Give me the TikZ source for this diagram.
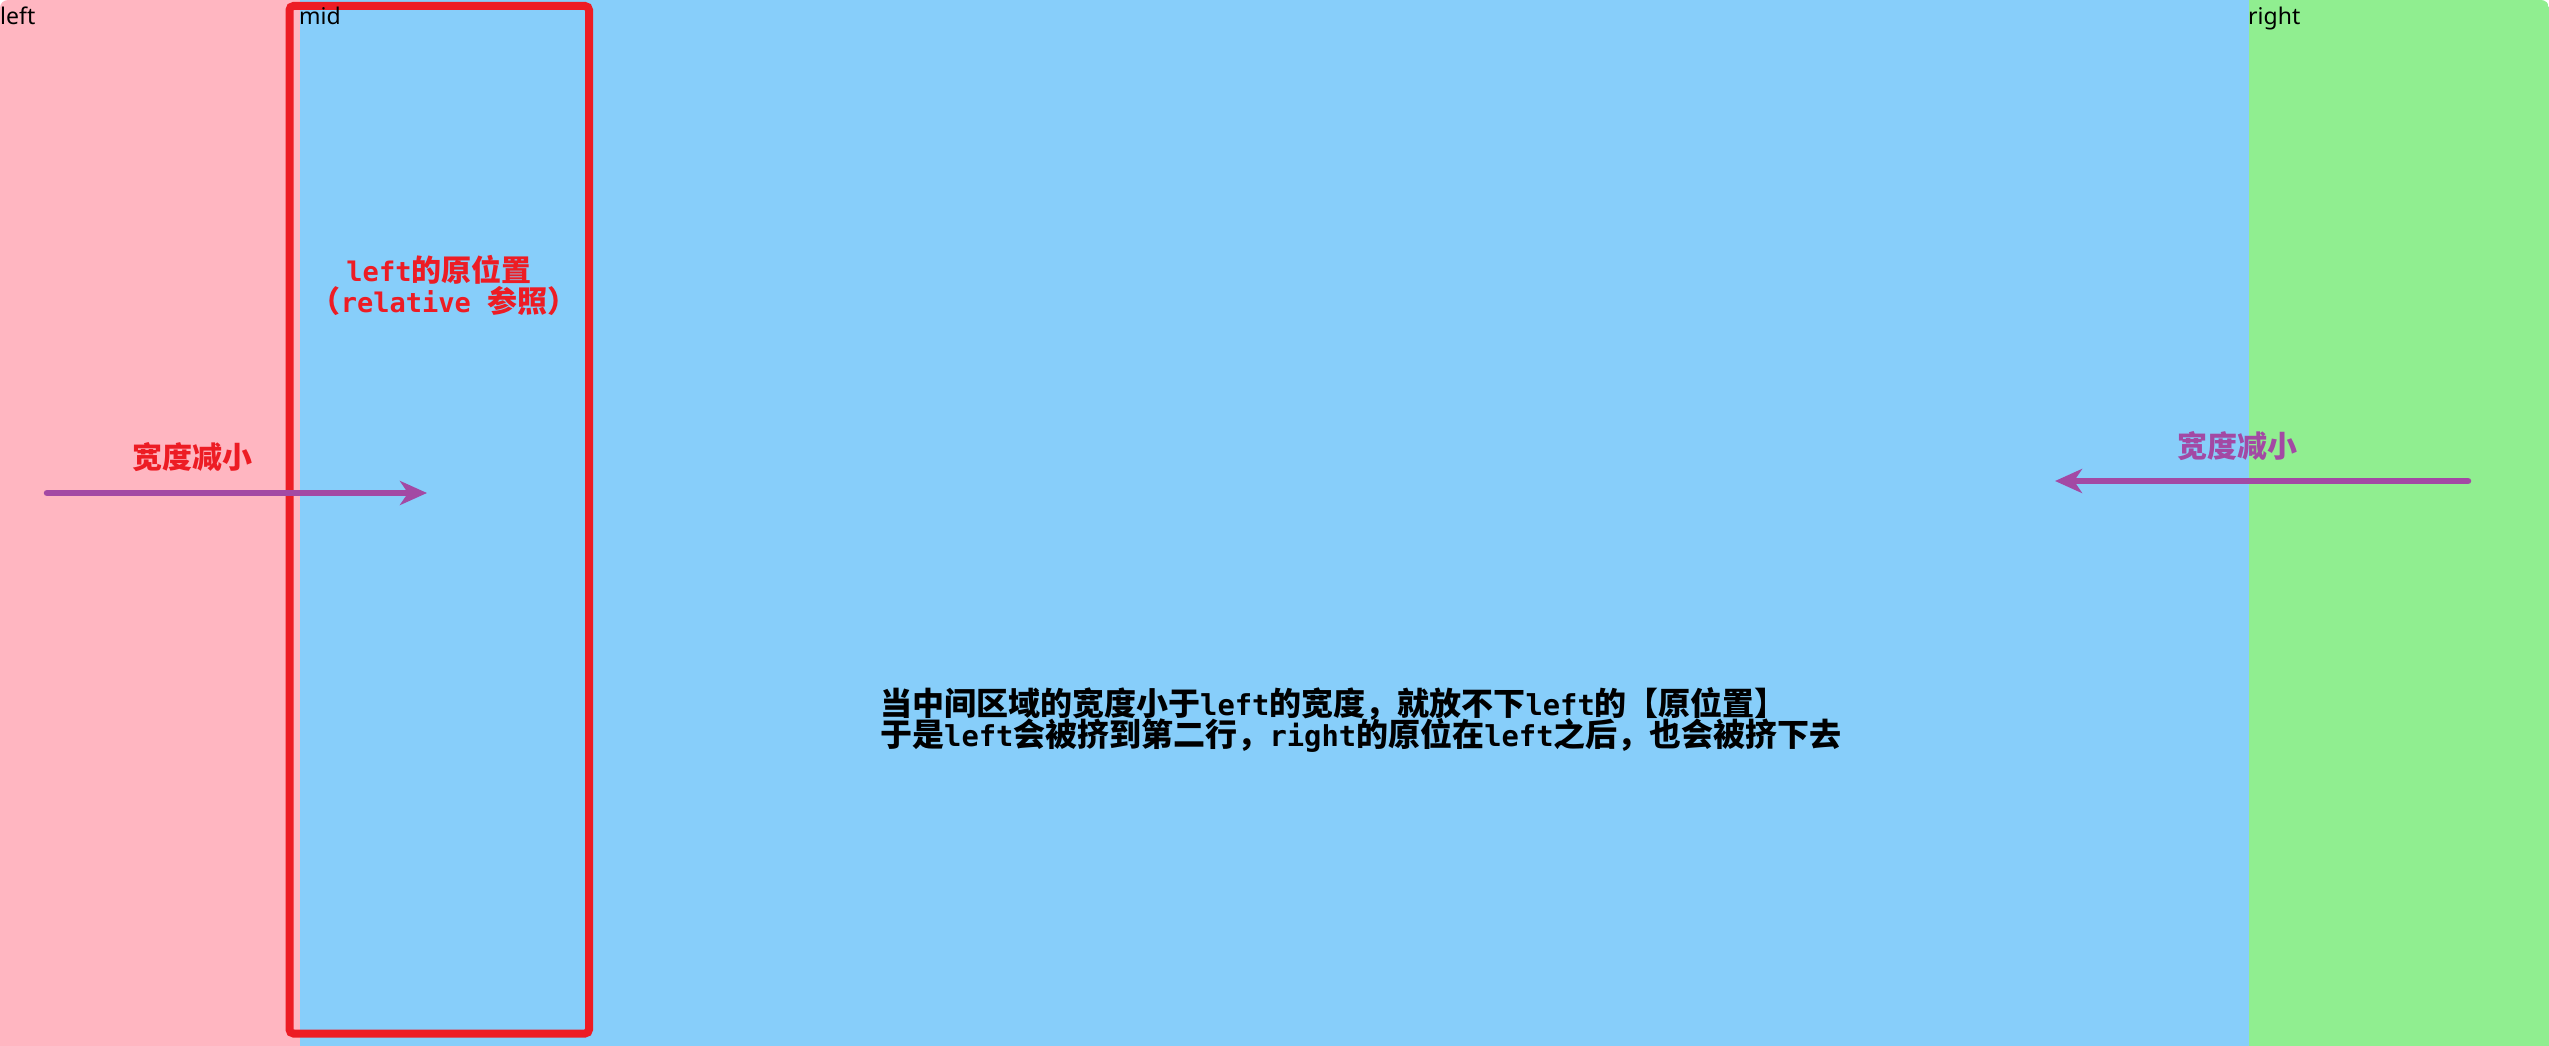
\documentclass[tikz,border=0pt]{standalone}
\usepackage{fontspec}
\usetikzlibrary{arrows.meta}
\newfontfamily\cjk{Noto Sans CJK SC}
\newfontfamily\latw[Scale=0.9]{DejaVu Sans Mono}
\newfontfamily\uifont{Noto Sans}
\definecolor{pinkbg}{HTML}{FFB6C1}
\definecolor{bluebg}{HTML}{87CEFA}
\definecolor{greenbg}{HTML}{90EE90}
\definecolor{redline}{HTML}{ED1C24}
\definecolor{purp}{HTML}{A349A4}
\newcommand\lw[1]{{\latw #1}}
\begin{document}
\begin{tikzpicture}[x=1pt,y=-1pt,
  boxlabel/.style={font=\uifont\fontsize{23}{28}\selectfont, inner sep=0pt, anchor=base west, text=black},
  redtxt/.style={font=\cjk\bfseries\fontsize{30}{30}\selectfont, inner sep=0pt, anchor=base, text=redline},
  shrinktxt/.style={font=\cjk\bfseries\fontsize{30}{32}\selectfont, inner sep=0pt, anchor=base},
  maintxt/.style={font=\cjk\bfseries\fontsize{32}{32}\selectfont, inner sep=0pt, anchor=base west, text=black},
  pusharrow/.style={draw=purp, line width=6.5pt, line cap=round, -{Stealth[length=27pt,width=24pt,inset=8pt]}},
  origbox/.style={draw=redline, line width=8pt, rounded corners=4pt}]
\useasboundingbox (0,0) rectangle (2549,1046);
\fill[white] (0,0) rectangle (2549,1046);
\begin{scope}
  \clip[rounded corners=8pt] (0,0) rectangle (2549,1100);
  \fill[pinkbg] (0,0) rectangle (300,1046);
  \fill[bluebg] (300,0) rectangle (2249,1046);
  \fill[greenbg] (2249,0) rectangle (2549,1046);
\end{scope}
% original-position box
\draw[origbox] (289.5,6) rectangle (589,1033.5);
% region labels
\node[boxlabel] (lleft) at (0,25) {left};
\node[boxlabel] (lmid) at (299,25) {mid};
\node[boxlabel] (lright) at (2248,25) {right};
% red annotation
\node[redtxt] (orig1) at (439,281) {\lw{left}的原位置};
\node[redtxt] (orig2) at (444,312) {（\lw{relative }参照）};
% shrink arrows
\coordinate (la0) at (47,493);
\coordinate (la1) at (427,493);
\draw[pusharrow] (la0) -- (la1);
\node[shrinktxt, text=redline] (s1) at (192.5,468) {宽度减小};
\coordinate (ra0) at (2468,481);
\coordinate (ra1) at (2055,481);
\draw[pusharrow] (ra0) -- (ra1);
\node[shrinktxt, text=purp] (s2) at (2237,457) {宽度减小};
% main text
\node[maintxt] (m1) at (880,715) {当中间区域的宽度小于\lw{left}的宽度，就放不下\lw{left}的【原位置】};
\node[maintxt] (m2) at (880,746) {于是\lw{left}会被挤到第二行，\lw{right}的原位在\lw{left}之后，也会被挤下去};
\end{tikzpicture}
\end{document}
